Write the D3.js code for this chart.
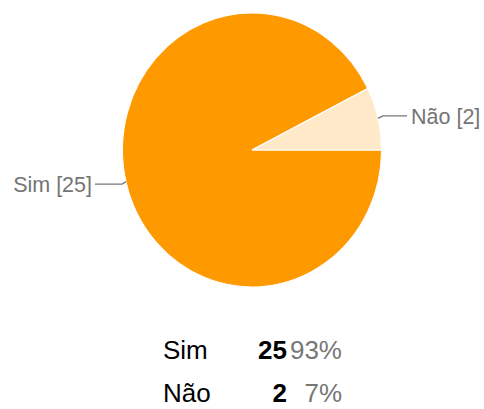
<!DOCTYPE html>
<html>
<head>
<meta charset="utf-8">
<script src="https://cdn.jsdelivr.net/npm/d3@7"></script>
<style>
  html, body { margin: 0; padding: 0; background: #fff; }
  svg { display: block; }
  text { font-family: "Liberation Sans", Arial, Helvetica, sans-serif; }
</style>
</head>
<body>
<svg id="chart" width="484" height="409"></svg>
<script>
const categories = ["Sim", "Não"];
const values = [25, 2];
const colors = ["#ff9900", "#ffe9c9"];

const W = 484, H = 409;
const svg = d3.select("#chart");

const cx = 252, cy = 150, r = 129.5, yStretch = 137 / 129.5;

const pie = d3.pie().sort(null).value(d => d.value)
  .startAngle(Math.PI / 2).endAngle(Math.PI / 2 + 2 * Math.PI);
const data = categories.map((c, i) => ({ cat: c, value: values[i], color: colors[i] }));
const arcs = pie(data);
const arc = d3.arc().innerRadius(0).outerRadius(r);

const g = svg.append("g").attr("transform", `translate(${cx},${cy}) scale(1,${yStretch})`);
g.selectAll("path").data(arcs).join("path")
  .attr("d", arc)
  .attr("fill", d => d.data.color)
  .attr("stroke", "#fff")
  .attr("stroke-width", 1);

// leader lines and labels
const total = d3.sum(values);
arcs.forEach(d => {
  const mid = (d.startAngle + d.endAngle) / 2;
  const px = cx + r * Math.sin(mid);
  const py = cy - r * Math.cos(mid) * yStretch;
  const right = Math.sin(mid) > 0;
  const ly = py + (right ? -2.5 : 2.5);
  const bend = px + (right ? 5 : -4);
  const end = right ? 407 : 95;
  svg.append("path")
    .attr("d", `M${px},${py}L${bend},${ly}L${end},${ly}`)
    .attr("fill", "none")
    .attr("stroke", "#777")
    .attr("stroke-width", 1.3);
  svg.append("text")
    .attr("x", right ? end + 4 : end - 3)
    .attr("y", ly)
    .attr("dy", "0.36em")
    .attr("text-anchor", right ? "start" : "end")
    .attr("font-size", 21.5)
    .attr("fill", "#757575")
    .text(`${d.data.cat} [${d.data.value}]`);
});

// summary table
const pct = d3.format(".0%");
const rowY = d3.scalePoint().domain(categories).range([359, 402]);
const tbl = svg.append("g");
categories.forEach((c, i) => {
  const y = rowY(c);
  tbl.append("text").attr("x", 163).attr("y", y).attr("font-size", 26).attr("fill", "#000").text(c);
  tbl.append("text").attr("x", 287).attr("y", y).attr("font-size", 26).attr("font-weight", "bold")
    .attr("text-anchor", "end").attr("fill", "#000").text(values[i]);
  tbl.append("text").attr("x", 342).attr("y", y).attr("font-size", 26)
    .attr("text-anchor", "end").attr("fill", "#777").text(pct(values[i] / total));
});
</script>
</body>
</html>
